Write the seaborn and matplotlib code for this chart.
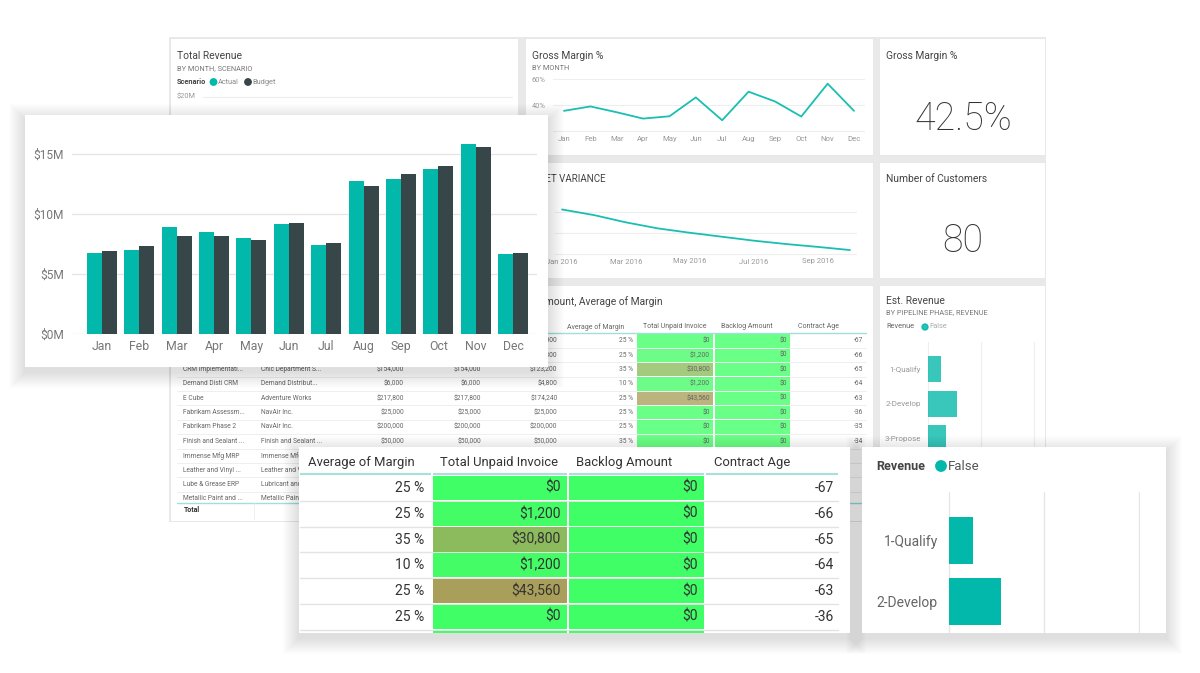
import numpy as np
import pandas as pd
import matplotlib
matplotlib.use("Agg")
import matplotlib.pyplot as plt
from matplotlib.patches import Rectangle, Circle
from matplotlib.colors import LinearSegmentedColormap, Normalize
import seaborn as sns

# ---------------- data ----------------
months = ["Jan", "Feb", "Mar", "Apr", "May", "Jun", "Jul", "Aug", "Sep", "Oct", "Nov", "Dec"]
scenarios = ["Actual", "Budget"]
revenue_actual_m = [6.75, 6.97, 8.92, 8.50, 7.97, 9.17, 7.42, 12.72, 12.94, 13.78, 15.83, 6.69]
revenue_budget_m = [6.92, 7.30, 8.17, 8.14, 7.80, 9.25, 7.58, 12.31, 13.36, 14.00, 15.61, 6.75]
revenue_ticks = [0, 5, 10, 15]
revenue_tick_labels = ["$0M", "$5M", "$10M", "$15M"]

gross_margin_pct = [35.6, 39.0, 34.5, 29.6, 31.4, 46.0, 28.3, 50.4, 42.9, 31.2, 56.6, 35.6]
gm_ticks = [20, 40, 60]
gm_tick_labels = ["20%", "40%", "60%"]

variance_months = ["Jan 2016", "Feb 2016", "Mar 2016", "Apr 2016", "May 2016",
                   "Jun 2016", "Jul 2016", "Aug 2016", "Sep 2016", "Oct 2016"]
budget_variance_m = [2.14, 1.87, 1.52, 1.23, 1.02, 0.83, 0.64, 0.48, 0.34, 0.19]

pipeline_phases = ["1-Qualify", "2-Develop", "3-Propose"]
est_revenue_m = [5.0, 11.0, 6.9]

kpi_gross_margin = "42.5%"
kpi_customers = "80"

table_headers = ["Project", "Customer", "Contract Amount", "Est. Revenue", "Total Paid",
                 "Average of Margin", "Total Unpaid Invoice", "Backlog Amount", "Contract Age"]
projects = ["Alpine Ski House", "Blue Yonder ERP", "CRM Implementati...", "Demand Disti CRM", "E Cube",
            "Fabrikam Assessm...", "Fabrikam Phase 2", "Finish and Sealant ...", "Immense Mfg MRP",
            "Leather and Vinyl ...", "Lube & Grease ERP", "Metallic Paint and ..."]
customers = ["Alpine Ski House", "Blue Yonder Airl...", "Chic Department S...", "Demand Distribut...",
             "Adventure Works", "NavAir Inc.", "NavAir Inc.", "Finish and Sealant ...", "Immense Mfg ...",
             "Leather and Vinyl ...", "Lubricant and ...", "Metallic Paint ..."]
contract_amount = [60000, 48000, 154000, 6000, 217800, 25000, 200000, 50000, None, None, None, None]
est_revenue = [60000, 48000, 154000, 6000, 217800, 25000, 200000, 50000, None, None, None, None]
total_paid = [60000, 46800, 123200, 4800, 174240, 25000, 200000, 50000, None, None, None, None]
avg_margin = [25, 25, 35, 10, 25, 25, 25, 35, None, None, None, None]
unpaid_invoice = [0, 1200, 30800, 1200, 43560, 0, 0, 0, None, None, None, None]
backlog_amount = [0, 0, 0, 0, 0, 0, 0, 0, None, None, None, None]
contract_age = [-67, -66, -65, -64, -63, -36, -35, -34, None, None, None, None]

# ---------------- style ----------------
TEAL = "#01B8AA"
DARK = "#374649"
W, H = 1200, 673

sns.set_theme(style="white")
plt.rcParams["font.family"] = ["Roboto", "DejaVu Sans"]
plt.rcParams["axes.unicode_minus"] = False

fig = plt.figure(figsize=(W / 100, H / 100), dpi=100)
fig.patch.set_facecolor("white")


def canvas(z):
    ax = fig.add_axes([0, 0, 1, 1], zorder=z)
    ax.set_xlim(0, W)
    ax.set_ylim(H, 0)
    ax.axis("off")
    return ax


def px_axes(x0, y0, x1, y1, z):
    ax = fig.add_axes([x0 / W, 1 - y1 / H, (x1 - x0) / W, (y1 - y0) / H], zorder=z)
    ax.patch.set_alpha(0)
    for s in ax.spines.values():
        s.set_visible(False)
    return ax


def money(v):
    return "$" + f"{v:,}"


cond_cmap = LinearSegmentedColormap.from_list("cond", ["#40FF66", "#AA9F5A"])
cond_norm = Normalize(0, 43560)

# region of the big overlay card (used to skip background text fully hidden by it)
BIG_CARD = (25, 115, 548, 367)

# ================= background dashboard =================
bg = canvas(0)
bg.add_patch(Rectangle((169, 37), 877, 485, facecolor="#e9e9e9", lw=0, zorder=0))
panels = [(170, 38, 518, 280), (525, 38, 873, 155), (879, 38, 1045, 155),
          (525, 162, 873, 278), (879, 162, 1045, 278), (170, 285, 873, 521),
          (879, 285, 1045, 521)]
for (x0, y0, x1, y1) in panels:
    bg.add_patch(Rectangle((x0, y0), x1 - x0, y1 - y0, facecolor="white",
                           edgecolor="#e4e4e4", lw=0.5, zorder=1))

T_COL, S_COL = "#444444", "#777777"
# Total Revenue panel
bg.text(177, 56, "Total Revenue", fontsize=7.4, color=T_COL, va="center", zorder=3)
bg.text(177, 68.5, "BY MONTH, SCENARIO", fontsize=5.3, color=S_COL, va="center", zorder=3)
bg.text(177, 82, "Scenario", fontsize=5.3, color=T_COL, fontweight="bold", va="center", zorder=3)
bg.add_patch(Circle((213.5, 82), 3.2, color=TEAL, zorder=3))
bg.text(217.5, 82, "Actual", fontsize=5.3, color="#888888", va="center", zorder=3)
bg.add_patch(Circle((248, 82), 3.2, color=DARK, zorder=3))
bg.text(252, 82, "Budget", fontsize=5.3, color="#888888", va="center", zorder=3)
bg.text(177, 97, "$20M", fontsize=5.3, color="#999999", va="center", zorder=3)
bg.plot([203, 512], [97, 97], color="#ededed", lw=0.8, zorder=2)

# Gross margin line panel
bg.text(532, 56, "Gross Margin %", fontsize=7.4, color=T_COL, va="center", zorder=3)
bg.text(532, 68.5, "BY MONTH", fontsize=5.3, color=S_COL, va="center", zorder=3)

# KPI cards
bg.text(886, 56, "Gross Margin %", fontsize=7.4, color=T_COL, va="center", zorder=3)
bg.text(963, 119, kpi_gross_margin, fontsize=27, color="#333333", fontweight="light",
        ha="center", va="center", zorder=3)
bg.text(886, 179, "Number of Customers", fontsize=7.4, color=T_COL, va="center", zorder=3)
bg.text(963, 241, kpi_customers, fontsize=27, color="#333333", fontweight="light",
        ha="center", va="center", zorder=3)

# Variance panel title (partly hidden)
bg.text(606, 178.5, "BUDGET VARIANCE", fontsize=7, color=T_COL, ha="right", va="center", zorder=3)

# Table panel title (partly hidden)
bg.text(663, 301.5, "Est. Revenue, Total Paid, Backlog Amount, Average of Margin",
        fontsize=7.4, color=T_COL, ha="right", va="center", zorder=3)

# Est. Revenue panel
bg.text(886, 301, "Est. Revenue", fontsize=7.4, color=T_COL, va="center", zorder=3)
bg.text(886, 313, "BY PIPELINE PHASE, REVENUE", fontsize=5.3, color=S_COL, va="center", zorder=3)
bg.text(886, 327, "Revenue", fontsize=5.3, color="#666666", va="center", zorder=3)
bg.add_patch(Circle((925, 327), 3.0, color=TEAL, alpha=0.85, zorder=3))
bg.text(929, 327, "False", fontsize=5.3, color="#aaaaaa", va="center", zorder=3)

# ---- background table ----
bg_col_lefts = [177, 255, 330, 408, 485, 561, 637.4, 714.6, 792, 866]
bg_col_text = [(183.4, "left"), (260.6, "left"), (404, "right"), (481, "right"), (557.5, "right"),
               (633, "right"), (710, "right"), (787.4, "right"), (863.3, "right")]


def hidden_by_big_card(col_idx, yc):
    x0, y0, x1, y1 = BIG_CARD
    return (y0 < yc < y1) and (bg_col_lefts[col_idx + 1] < x1)


for ci, (h_txt, lft) in enumerate(zip(table_headers, bg_col_lefts)):
    if not hidden_by_big_card(ci, 326.7):
        bg.text(lft + 6, 326.7, h_txt, fontsize=5, color="#666666", va="center", zorder=3)
bg.plot([177, 866], [332.7, 332.7], color="#9fe0da", lw=1.0, zorder=3)

row_c0, row_h = 340.9, 14.35
for i in range(len(projects)):
    yc = row_c0 + i * row_h
    if i < len(projects) - 1:
        bg.plot([177, 866], [yc + row_h / 2] * 2, color="#ececec", lw=0.6, zorder=2)
    for col_idx, vals in ((6, unpaid_invoice), (7, backlog_amount)):
        v = vals[i]
        if v is not None:
            l = bg_col_lefts[col_idx]
            r = 713.0 if col_idx == 6 else 789.6
            bg.add_patch(Rectangle((l, yc - row_h / 2 + 0.5), r - l, row_h - 1.0,
                                   facecolor=cond_cmap(cond_norm(v)), alpha=0.78, lw=0, zorder=2))
    cells = [projects[i], customers[i],
             None if contract_amount[i] is None else money(contract_amount[i]),
             None if est_revenue[i] is None else money(est_revenue[i]),
             None if total_paid[i] is None else money(total_paid[i]),
             None if avg_margin[i] is None else f"{avg_margin[i]} %",
             None if unpaid_invoice[i] is None else money(unpaid_invoice[i]),
             None if backlog_amount[i] is None else money(backlog_amount[i]),
             None if contract_age[i] is None else str(contract_age[i])]
    for ci, ((x, ha), txt) in enumerate(zip(bg_col_text, cells)):
        if txt is not None and not hidden_by_big_card(ci, yc):
            bg.text(x, yc, txt, fontsize=4.8, color="#666666", ha=ha, va="center", zorder=3)

# total row covers the last row partially
bg.add_patch(Rectangle((171, 502.5), 701, 18, facecolor="white", lw=0, zorder=4))
bg.plot([177, 866], [502.5, 502.5], color="#9fe0da", lw=1.0, zorder=5)
bg.plot([254, 254], [503, 519], color="#eeeeee", lw=0.6, zorder=5)
bg.text(183.4, 510, "Total", fontsize=5, color="#333333", fontweight="bold", va="center", zorder=5)

# ---- background charts ----
# Gross Margin % by month
ax_gm = px_axes(553, 76, 865, 134, 1)
sns.lineplot(x=np.arange(len(months)), y=gross_margin_pct, ax=ax_gm, color=TEAL,
             lw=1.3, alpha=0.9)
ax_gm.set_xlim(-0.417, 11.417)
ax_gm.set_ylim(20 - 3 / 1.2925, 60 + 3.3 / 1.2925)
ax_gm.set_xticks(np.arange(len(months)))
ax_gm.set_xticklabels(months)
ax_gm.set_yticks(gm_ticks)
ax_gm.set_yticklabels(gm_tick_labels)
ax_gm.yaxis.grid(True, color="#eeeeee", lw=0.8)
ax_gm.set_axisbelow(True)
ax_gm.tick_params(axis="x", length=0, pad=1.2, labelsize=5.6, labelcolor="#999999")
ax_gm.tick_params(axis="y", length=0, pad=5.5, labelsize=5.4, labelcolor="#999999")
ax_gm.set_xlabel("")
ax_gm.set_ylabel("")

# Budget variance
ax_var = px_axes(555, 204, 857, 256, 1)
sns.lineplot(x=np.arange(len(variance_months)), y=budget_variance_m, ax=ax_var, color=TEAL,
             lw=1.3, alpha=0.9)
ax_var.set_xlim(-0.22, 9.22)
ax_var.set_ylim(-0.096, 2.404)
ax_var.set_xticks(np.arange(0, len(variance_months), 2))
ax_var.set_xticklabels(variance_months[::2])
ax_var.set_yticks([0, 1, 2])
ax_var.set_yticklabels([])
ax_var.yaxis.grid(True, color="#eeeeee", lw=0.8)
ax_var.set_axisbelow(True)
ax_var.tick_params(axis="x", length=0, pad=1.8, labelsize=5.5, labelcolor="#999999")
ax_var.tick_params(axis="y", length=0)
ax_var.set_xlabel("")
ax_var.set_ylabel("")

# Est. revenue by pipeline phase (background)
ax_est = px_axes(926.9, 341.7, 1040.1, 460, 1)
sns.barplot(x=est_revenue_m, y=pipeline_phases, orient="h", ax=ax_est, color=TEAL,
            width=0.75, saturation=1, alpha=0.78, linewidth=0)
ax_est.set_xlim(-0.3, 42.4)
ax_est.set_ylim(2.62, -0.787)
ax_est.set_xticks([0, 20, 40])
ax_est.xaxis.grid(True, color="#eeeeee", lw=0.8)
ax_est.set_axisbelow(True)
ax_est.tick_params(axis="x", length=0, labelbottom=False)
ax_est.tick_params(axis="y", length=0, pad=4.3, labelsize=5.8, labelcolor="#999999")
ax_est.set_xlabel("")
ax_est.set_ylabel("")

# ================= overlay cards =================
ov = canvas(2)


def card(ax, x0, y0, x1, y1, layers=16, step=1.0, alpha=0.0085, dy=5):
    for k in range(layers, 0, -1):
        e = k * step
        ax.add_patch(Rectangle((x0 - e, y0 - e + dy), (x1 - x0) + 2 * e, (y1 - y0) + 2 * e,
                               facecolor="black", alpha=alpha, lw=0, zorder=1))
    ax.add_patch(Rectangle((x0, y0), x1 - x0, y1 - y0, facecolor="white", lw=0, zorder=2))


card(ov, *BIG_CARD)
card(ov, 299, 447, 850, 633)
card(ov, 862, 447, 1166, 633)

# ---- foreground table ----
fg_cols = [(300, 430.7), (432.5, 567), (569, 704), (706, 838)]
fg_text_right = [424.3, 561, 698, 834]
fg_top, fg_h, fg_bottom = 475.0, 25.8, 633
for (l, r), h_txt in zip(fg_cols, table_headers[5:]):
    ov.text(l + 7.5, 462.3, h_txt, fontsize=9.4, color="#333333", va="center", zorder=6)
    ov.plot([l, r], [474, 474], color="#a6e1dc", lw=1.5, zorder=6, solid_capstyle="butt")

for i in range(len(projects)):
    top = fg_top + i * fg_h
    if top >= fg_bottom:
        break
    full = top + fg_h <= fg_bottom + 0.5
    bot = min(top + fg_h, fg_bottom)
    if full:
        ov.plot([300, 838], [top + fg_h] * 2, color="#e3e3e3", lw=1.0, zorder=3)
    for j, vals in ((1, unpaid_invoice), (2, backlog_amount)):
        v = vals[i]
        if v is None:
            continue
        l, r = fg_cols[j]
        y_start = top + 0.8
        h_cell = (bot - y_start) - (0.8 if full else 0)
        ov.add_patch(Rectangle((l, y_start), r - l, h_cell,
                               facecolor=cond_cmap(cond_norm(v)), lw=0, zorder=4))
    if full:
        yc = top + fg_h / 2
        vals_txt = [f"{avg_margin[i]} %", money(unpaid_invoice[i]),
                    money(backlog_amount[i]), str(contract_age[i])]
        for x, t in zip(fg_text_right, vals_txt):
            ov.text(x, yc, t, fontsize=10, color="#333333", ha="right", va="center", zorder=6)

# ---- revenue card legend ----
ov.text(876, 466, "Revenue", fontsize=9, color="#444444", fontweight="bold", va="center", zorder=6)
ov.add_patch(Circle((941, 466), 5.2, color=TEAL, zorder=6))
ov.text(947.5, 466, "False", fontsize=9.5, color="#555555", va="center", zorder=6)

# ---- big revenue bar chart ----
ax_bar = px_axes(72, 124, 537, 334, 3)
rev_df = pd.DataFrame({
    "Month": months * 2,
    "Scenario": [scenarios[0]] * len(months) + [scenarios[1]] * len(months),
    "Revenue": revenue_actual_m + revenue_budget_m,
})
sns.barplot(data=rev_df, x="Month", y="Revenue", hue="Scenario", order=months,
            hue_order=scenarios, palette={"Actual": TEAL, "Budget": DARK},
            width=0.8, saturation=1, linewidth=0, legend=False, ax=ax_bar)
ax_bar.set_xlim(-0.5 - 11 / 37.4, 11.5 + 5 / 37.4)
ax_bar.set_ylim(0, 17.5)
ax_bar.set_yticks(revenue_ticks)
ax_bar.set_yticklabels(revenue_tick_labels)
ax_bar.yaxis.grid(True, color="#e6e6e6", lw=1.0)
ax_bar.set_axisbelow(True)
ax_bar.tick_params(axis="y", length=0, pad=6, labelsize=8.6, labelcolor="#777777")
ax_bar.tick_params(axis="x", length=0, pad=4.5, labelsize=8.8, labelcolor="#777777")
ax_bar.set_xlabel("")
ax_bar.set_ylabel("")

# ---- revenue by phase (foreground) ----
ax_rev = px_axes(947.6, 491.7, 1140, 633, 3)
sns.barplot(x=est_revenue_m, y=pipeline_phases, orient="h", ax=ax_rev, color=TEAL,
            width=0.77, saturation=1, linewidth=0)
ax_rev.set_xlim(-0.3, 40.3)
ax_rev.set_ylim(1.51, -0.80)
ax_rev.set_xticks([0, 20, 40])
ax_rev.xaxis.grid(True, color="#e6e6e6", lw=1.0)
ax_rev.set_axisbelow(True)
ax_rev.tick_params(axis="x", length=0, labelbottom=False)
ax_rev.tick_params(axis="y", length=0, pad=7, labelsize=10, labelcolor="#666666")
ax_rev.set_xlabel("")
ax_rev.set_ylabel("")

fig.savefig("out.png", dpi=100, facecolor="white")
